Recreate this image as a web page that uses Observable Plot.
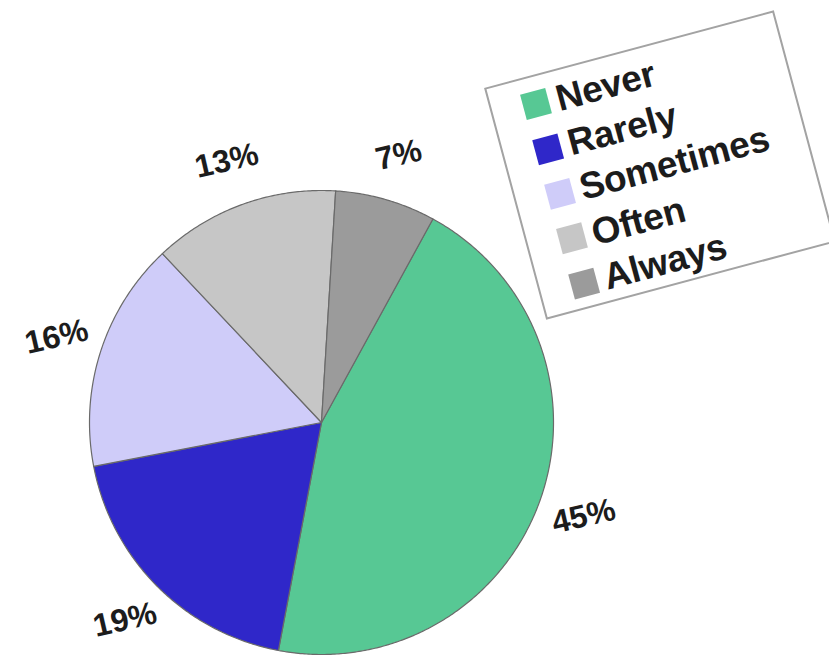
<!DOCTYPE html>
<html><head><meta charset="utf-8">
<script src="https://cdn.jsdelivr.net/npm/d3@7"></script>
<script src="https://cdn.jsdelivr.net/npm/@observablehq/plot@0.6"></script>
<style>
body{margin:0;background:#fff;}
#wrap{position:relative;width:829px;height:657px;overflow:hidden;background:#fff;}
#legend{position:absolute;left:510px;top:45px;width:300px;height:240px;box-sizing:border-box;border:2px solid #a3a3a3;background:#fff;transform:rotate(-15deg);transform-origin:50% 50%;font-family:"Liberation Sans",Arial,sans-serif;font-weight:bold;font-size:37px;color:#1c1c1c;padding:4px 0 0 31px;}
.item{display:flex;align-items:center;height:46.4px;}
.sw{width:26px;height:26px;margin-right:8px;flex:none;}
.lab{line-height:1;letter-spacing:-0.3px;}
</style>
</head><body>
<div id="wrap"><div id="chart"></div><div id="legend"></div></div>
<script>
const categories = ["Never", "Rarely", "Sometimes", "Often", "Always"];
const percents = [45, 19, 16, 13, 7];
const colors = ["#57c894", "#2f27c9", "#cfccf9", "#c6c6c6", "#9b9b9b"];
const labels = ["45%", "19%", "16%", "13%", "7%"];

const W = 829, H = 657, cx = 321, cy = 422, R = 232;
const startDeg = 28.7;
const rad = d => d * Math.PI / 180;

const points = [];
const labelPts = [];
let cum = 0;
categories.forEach((c, i) => {
  const a0 = startDeg + cum * 3.6, a1 = a0 + percents[i] * 3.6;
  cum += percents[i];
  points.push({cat: c, x: 0, y: 0});
  for (let a = a0; a < a1; a += 0.5) points.push({cat: c, x: Math.sin(rad(a)), y: -Math.cos(rad(a))});
  points.push({cat: c, x: Math.sin(rad(a1)), y: -Math.cos(rad(a1))});
  points.push({cat: c, x: 0, y: 0});
  const am = (a0 + a1) / 2, rl = 1.2;
  labelPts.push({text: labels[i], x: rl * Math.sin(rad(am)), y: -rl * Math.cos(rad(am))});
});

const chart = Plot.plot({
  width: W, height: H, margin: 0,
  style: {background: "#fff"},
  x: {domain: [-cx / R, (W - cx) / R], range: [0, W], axis: null},
  y: {domain: [-cy / R, (H - cy) / R], range: [0, H], axis: null},
  color: {domain: categories, range: colors},
  marks: [
    Plot.line(points, {x: "x", y: "y", z: "cat", fill: "cat", stroke: "#6a6a6a", strokeWidth: 1.2, curve: "linear"}),
    Plot.text(labelPts, {x: "x", y: "y", text: "text", rotate: -13, fontSize: 32, fontWeight: "bold", fill: "#1c1c1c", fontFamily: "Liberation Sans, Arial, sans-serif"})
  ]
});
document.getElementById("chart").appendChild(chart);

const leg = document.getElementById("legend");
categories.forEach((c, i) => {
  const it = document.createElement("div"); it.className = "item";
  const sw = document.createElement("div"); sw.className = "sw"; sw.style.background = colors[i];
  const lb = document.createElement("span"); lb.className = "lab"; lb.textContent = c;
  it.appendChild(sw); it.appendChild(lb); leg.appendChild(it);
});
</script>
</body></html>
